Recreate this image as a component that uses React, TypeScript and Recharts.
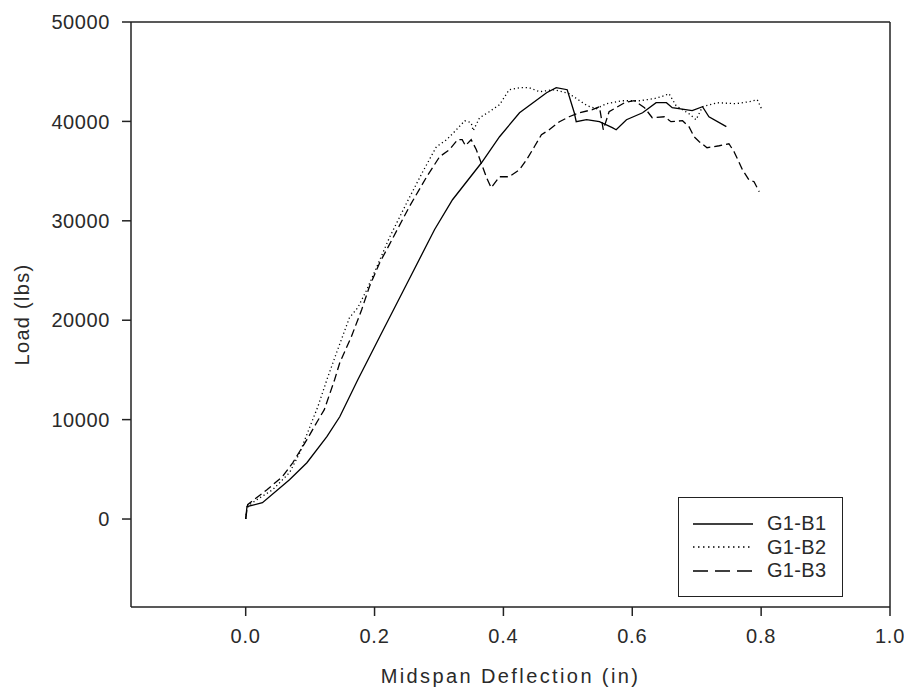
import { LineChart, Line, XAxis, YAxis, ReferenceLine } from "recharts";

// G1-B1 (solid)
const b1Defl = [0, 0.002, 0.026, 0.068, 0.095, 0.126, 0.146, 0.174, 0.208, 0.243, 0.293, 0.321, 0.366, 0.394, 0.425, 0.467, 0.482, 0.499, 0.510, 0.513, 0.529, 0.549, 0.569, 0.575, 0.591, 0.616, 0.637, 0.653, 0.662, 0.693, 0.709, 0.719, 0.746];
const b1Load = [0, 1250, 1640, 3960, 5660, 8280, 10290, 14010, 18340, 22760, 29100, 32120, 35840, 38460, 40870, 42880, 43390, 43190, 40870, 39970, 40170, 39970, 39370, 39160, 40170, 40870, 41880, 41880, 41380, 41080, 41480, 40470, 39470];

// G1-B2 (dotted)
const b2Defl = [0, 0.002, 0.006, 0.022, 0.042, 0.068, 0.084, 0.096, 0.112, 0.126, 0.141, 0.161, 0.174, 0.188, 0.205, 0.223, 0.250, 0.274, 0.296, 0.312, 0.327, 0.340, 0.350, 0.353, 0.363, 0.378, 0.394, 0.409, 0.425, 0.440, 0.456, 0.479, 0.502, 0.530, 0.544, 0.560, 0.584, 0.611, 0.634, 0.650, 0.657, 0.668, 0.688, 0.699, 0.709, 0.732, 0.761, 0.781, 0.794, 0.802];
const b2Load = [0, 1100, 1440, 2140, 2950, 4660, 6670, 8680, 11300, 14010, 16730, 20250, 21260, 23070, 25590, 28300, 31820, 34840, 37450, 38160, 39160, 40070, 39870, 39060, 40370, 40970, 41680, 43190, 43390, 43390, 42990, 43190, 42790, 41580, 41280, 41780, 42080, 42080, 42290, 42590, 42790, 41580, 40770, 40170, 41480, 41880, 41780, 41980, 42180, 41080];

// G1-B3 (dashed)
const b3Defl = [0, 0.003, 0.033, 0.057, 0.073, 0.095, 0.110, 0.122, 0.138, 0.146, 0.164, 0.180, 0.192, 0.208, 0.223, 0.254, 0.281, 0.301, 0.316, 0.329, 0.336, 0.341, 0.350, 0.358, 0.374, 0.381, 0.394, 0.409, 0.425, 0.436, 0.448, 0.459, 0.471, 0.487, 0.502, 0.518, 0.538, 0.549, 0.555, 0.564, 0.588, 0.603, 0.619, 0.631, 0.650, 0.660, 0.678, 0.688, 0.696, 0.704, 0.716, 0.735, 0.750, 0.758, 0.766, 0.771, 0.781, 0.789, 0.797];
const b3Load = [0, 1440, 2950, 4260, 5660, 7980, 9690, 11000, 14010, 15720, 18340, 21060, 23370, 25790, 27600, 31420, 34440, 36450, 37150, 38160, 38160, 37560, 38160, 37150, 34330, 33330, 34430, 34430, 35140, 36150, 37450, 38660, 39160, 39970, 40470, 40870, 41180, 41480, 39160, 40970, 41880, 42090, 41380, 40370, 40470, 39970, 40070, 39470, 38460, 37960, 37350, 37550, 37750, 36950, 35840, 35140, 34130, 33930, 32920];

const xTicks = [0, 0.2, 0.4, 0.6, 0.8, 1.0];
const yTicks = [0, 10000, 20000, 30000, 40000, 50000];

const series = [
  { name: "G1-B1", defl: b1Defl, load: b1Load, dash: undefined, legendDash: undefined },
  { name: "G1-B2", defl: b2Defl, load: b2Load, dash: "1.2 2.8", legendDash: "1.5 3.5" },
  { name: "G1-B3", defl: b3Defl, load: b3Load, dash: "8 4", legendDash: "15 7" },
];

const INK = "#222";
const TEXT = "#2a2a2a";

function LegendBox() {
  return (
    <div style={{ position: "absolute", left: 678, top: 497, border: `1.5px solid ${INK}`, width: 165, height: 100,
      boxSizing: "border-box", padding: "14px 0 0 14px", background: "#fff" }}>
      {series.map(s => (
        <div key={s.name} style={{ display: "flex", alignItems: "center", height: 23.5 }}>
          <svg width={60} height={10}>
            <line x1={0} y1={5} x2={60} y2={5} stroke="#000" strokeWidth={1.3} strokeDasharray={s.legendDash} />
          </svg>
          <span style={{ marginLeft: 14, fontSize: 20, color: TEXT, lineHeight: "23px", letterSpacing: 0.3 }}>{s.name}</span>
        </div>
      ))}
    </div>
  );
}

export default function App() {
  return (
    <div style={{ position: "absolute", left: 0, top: 0, width: 904, height: 691,
      fontFamily: "'Liberation Sans', Arial, sans-serif", background: "#fff" }}>
      <LineChart width={904} height={691} margin={{ top: 22, right: 14, bottom: 0, left: 0 }}>
        <XAxis type="number" dataKey="x" domain={[-0.178, 1.0]} ticks={xTicks} allowDataOverflow
          tickFormatter={(v: number) => v.toFixed(1)} height={84} tickSize={9} tickMargin={13}
          stroke={INK} strokeWidth={1.5} tick={{ fill: TEXT, fontSize: 20, letterSpacing: 0.8 }}
          label={{ value: "Midspan Deflection (in)", position: "insideBottom", offset: 8, fill: TEXT, fontSize: 20,
            letterSpacing: 2.4 }} />
        <YAxis type="number" dataKey="y" domain={[-8850, 50000]} ticks={yTicks} allowDataOverflow
          width={131} tickSize={9} tickMargin={12}
          stroke={INK} strokeWidth={1.5} tick={{ fill: TEXT, fontSize: 20, letterSpacing: 0.6 }}
          label={{ value: "Load (lbs)", position: "insideLeft", angle: -90, offset: 22, fill: TEXT, fontSize: 20,
            letterSpacing: 1.3, textAnchor: "middle", style: { textAnchor: "middle" } }} />
        {/* top and right frame */}
        <ReferenceLine y={50000} stroke={INK} strokeWidth={1.5} />
        <ReferenceLine x={1.0} stroke={INK} strokeWidth={1.5} />
        {series.map(s => (
          <Line key={s.name} name={s.name} data={s.defl.map((x, i) => ({ x, y: s.load[i] }))}
            dataKey="y" type="linear" stroke="#000" strokeWidth={1.3} strokeDasharray={s.dash}
            dot={false} activeDot={false} isAnimationActive={false} />
        ))}
      </LineChart>
      <LegendBox />
    </div>
  );
}
